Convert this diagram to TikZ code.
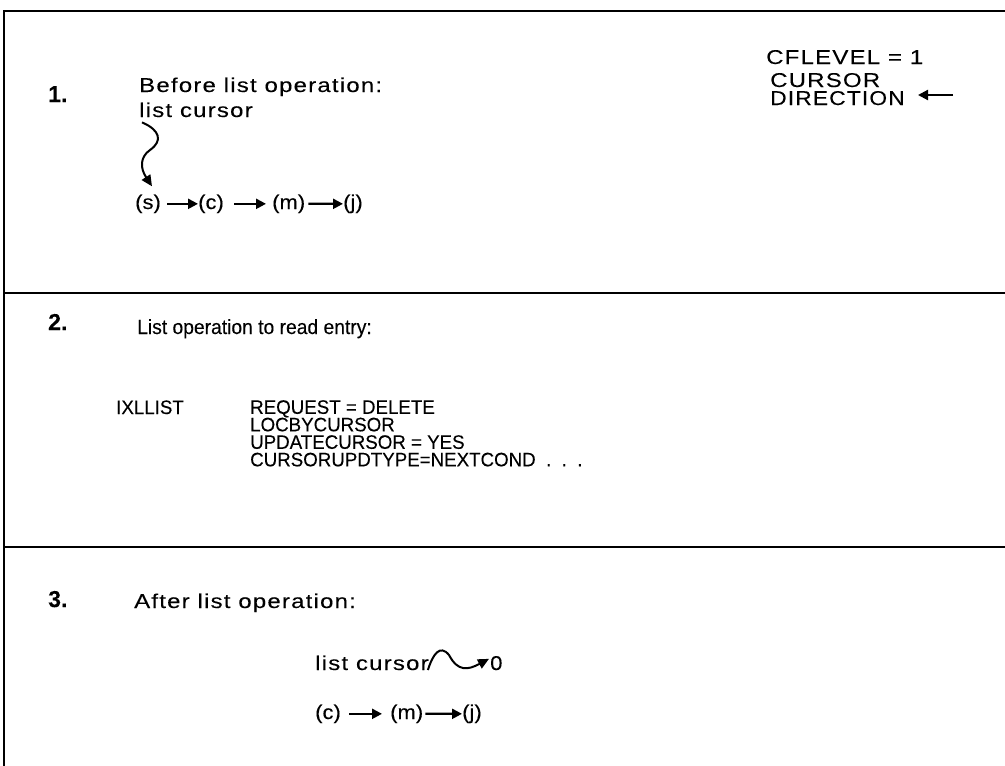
\documentclass[tikz,border=0pt]{standalone}
\usepackage{fontspec}
\setmainfont{Liberation Sans}[FakeBold=0.12]
\newfontfamily\widefont[LetterSpace=5,FakeBold=0.12]{Liberation Sans}
\usetikzlibrary{arrows.meta}
\newcommand{\wt}[1]{\scalebox{1.2}[1]{\widefont #1}}
\newcommand{\plainw}[1]{\scalebox{1.1}[1]{#1}}
\newcommand{\nt}[1]{\scalebox{0.96}[1]{#1}}
\tikzset{
  widetxt/.style={anchor=base west, inner sep=0pt, font=\fontsize{20}{22}\selectfont},
  codetxt/.style={anchor=base west, inner sep=0pt, font=\fontsize{19.5}{17.5}\selectfont, align=left},
  numtxt/.style={anchor=base west, inner sep=0pt, font=\fontsize{23}{24}\selectfont\bfseries},
  frameline/.style={line width=2.8pt},
  chainarrow/.style={line width=2.2pt, -{Triangle[length=10pt,width=10pt]}, shorten <=4pt},
  squig/.style={line width=2pt, -{Triangle[length=11pt,width=10pt]}}
}
\begin{document}
\begin{tikzpicture}[x=1pt,y=-1pt]
\useasboundingbox (0,0) rectangle (1005,766);
% frame
\coordinate (ftl) at (4,11);
\coordinate (ftr) at (1005,11);
\coordinate (fbl) at (4,766);
\coordinate (d1l) at (4,293);
\coordinate (d1r) at (1005,293);
\coordinate (d2l) at (4,547);
\coordinate (d2r) at (1005,547);
\draw[frameline] (ftr) -- (ftl) -- (fbl);
\draw[frameline] (d1l) -- (d1r);
\draw[frameline] (d2l) -- (d2r);

% section 1
\node[numtxt] (n1) at (48,102) {1.};
\node[widetxt] (t1a) at (139,92) {\wt{Before list operation:}};
\node[widetxt] (t1b) at (139,117) {\wt{list cursor}};
\node[widetxt] (s) at (135,209) {\plainw{(s)}};
\node[widetxt] (c) at (198,209) {\plainw{(c)}};
\node[widetxt] (m) at (272,209) {\plainw{(m)}};
\node[widetxt] (j) at (343,209) {\plainw{(j)}};
\draw[chainarrow, shorten <=6pt] (s) -- (c);
\draw[chainarrow, shorten <=10pt, shorten >=6pt] (c) -- (m);
\draw[chainarrow, shorten <=3pt] (m) -- (j);
\draw[squig] ([xshift=3pt,yshift=-5pt]t1b.south west) .. controls (160,130) and (163,141) .. (150,150)
  .. controls (140,157) and (140,168) .. ([xshift=17pt,yshift=8pt]s.north west);

\node[widetxt] (cf) at (766,64) {\wt{CFLEVEL = 1}};
\node[widetxt] (cur) at (770,87) {\wt{CURSOR}};
\node[widetxt] (dir) at (770,105) {\scalebox{0.95}[1]{\wt{DIRECTION}}};
\coordinate (dtail) at (953,95);
\coordinate (dhead) at (918,95);
\draw[chainarrow, shorten <=0pt] (dtail) -- (dhead);

% section 2
\node[numtxt] (n2) at (48,330) {2.};
\node[codetxt, font=\fontsize{20.5}{22}\selectfont] (t2) at (137,334) {\scalebox{0.94}[1]{List operation to read entry:}};
\node[codetxt] (ix) at (116,414) {\nt{IXLLIST}};
\node[codetxt, anchor=north west] (req) at (250,400) {\nt{REQUEST = DELETE}\\ \nt{LOCBYCURSOR}\\ \nt{UPDATECURSOR = YES}\\ \nt{CURSORUPDTYPE=NEXTCOND\ \ .\ \ .\ \ .}};

% section 3
\node[numtxt] (n3) at (48,607) {3.};
\node[widetxt] (t3) at (134,608) {\wt{After list operation:}};
\node[widetxt] (lc3) at (315,670) {\wt{list cursor}};
\node[widetxt] (zero) at (490,670) {\plainw{0}};
\draw[squig] ([xshift=-1pt]lc3.base east) .. controls (433,654) and (440,644) .. (449,655)
  .. controls (458,672) and (468,670) .. ([xshift=-1pt,yshift=-3pt]zero.north west);
\node[widetxt] (c2) at (315,719) {\plainw{(c)}};
\node[widetxt] (m2) at (390,719) {\plainw{(m)}};
\node[widetxt] (j2) at (462,719) {\plainw{(j)}};
\draw[chainarrow, shorten <=8pt, shorten >=8pt] (c2) -- (m2);
\draw[chainarrow, shorten <=2pt] (m2) -- (j2);
\end{tikzpicture}
\end{document}
